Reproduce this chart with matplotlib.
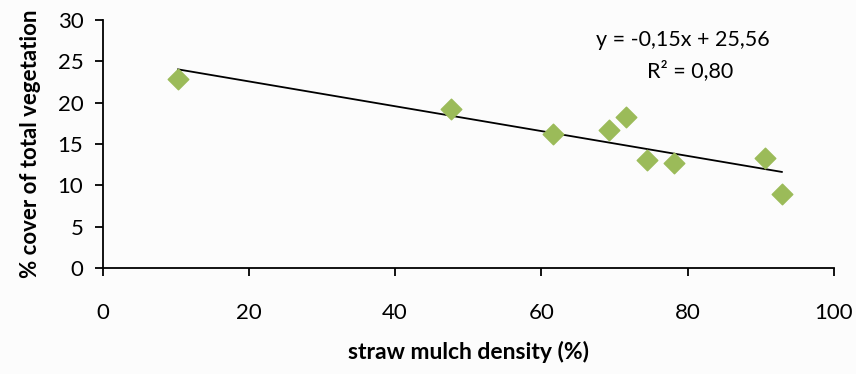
import numpy as np
import matplotlib.pyplot as plt

# straw mulch density (%) vs % cover of total vegetation
mulch_density = [10.3, 47.6, 61.6, 69.2, 71.6, 74.5, 78.2, 90.6, 92.9]
veg_cover = [22.9, 19.2, 16.2, 16.7, 18.3, 13.1, 12.7, 13.3, 9.0]

# linear trend shown on the chart
slope = -0.15
intercept = 25.56
r2_label = 'R² = 0,80'
eq_label = 'y = -0,15x + 25,56'

plt.rcParams['font.family'] = ['Lato', 'DejaVu Sans']

fig = plt.figure(figsize=(8.56, 3.74), dpi=100)
fig.patch.set_facecolor('#fcfcfc')
ax = fig.add_axes([0.120, 0.283, 0.854, 0.664])
ax.set_facecolor('#fcfcfc')

ax.scatter(mulch_density, veg_cover, marker='D', s=110, color='#9bbb59', zorder=3)

xs = np.array([min(mulch_density), max(mulch_density)])
ax.plot(xs, slope * xs + intercept, color='black', lw=1.3, zorder=2)

ax.text(79.3, 27.6, eq_label, ha='center', va='center', fontsize=15.5)
ax.text(80.4, 23.9, r2_label, ha='center', va='center', fontsize=15.5)

ax.set_xlim(0, 100)
ax.set_ylim(0, 30)
ax.set_xticks([0, 20, 40, 60, 80, 100])
ax.set_yticks([0, 5, 10, 15, 20, 25, 30])
for s in ['top', 'right']:
    ax.spines[s].set_visible(False)
for s in ['left', 'bottom']:
    ax.spines[s].set_linewidth(1.3)
ax.tick_params(axis='x', length=6, width=1.3, pad=19, labelsize=16)
ax.tick_params(axis='y', length=6, width=1.3, pad=8, labelsize=16)

ax.set_xlabel('straw mulch density (%)', fontsize=16.5, fontweight='bold', labelpad=13)
ax.set_ylabel('% cover of total vegetation', fontsize=16, fontweight='bold', labelpad=12)

fig.savefig('out.png', dpi=100, facecolor=fig.get_facecolor())
